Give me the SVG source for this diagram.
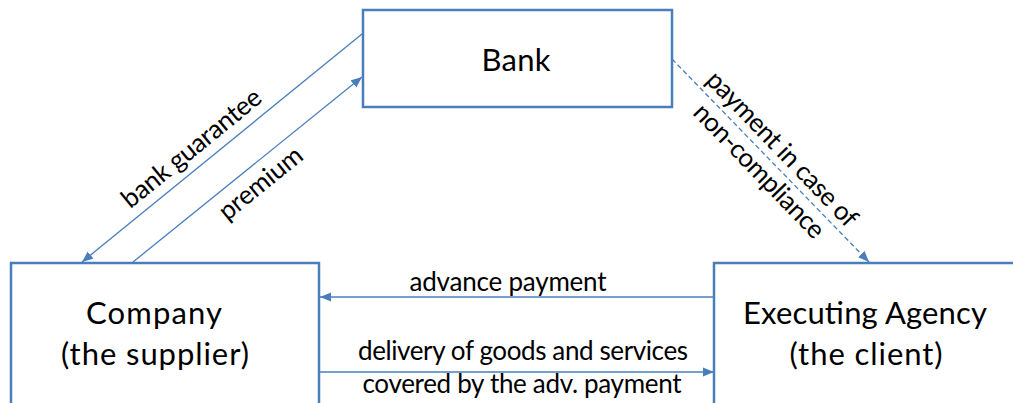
<svg xmlns="http://www.w3.org/2000/svg" width="1013" height="403" viewBox="0 0 1013 403">
<style>
.box{fill:#fff;stroke:#4A7EBB;stroke-width:2.5}
.big{font-family:Lato,"Liberation Sans",sans-serif;font-size:31px;fill:#000;text-anchor:middle}
.small{font-family:Lato,"Liberation Sans",sans-serif;font-size:26px;fill:#000;text-anchor:middle}
.conn{stroke:#4A7EBB;stroke-width:1.3;fill:none}
</style>
<defs>
<marker id="arr" markerUnits="userSpaceOnUse" markerWidth="12" markerHeight="10" refX="11" refY="5" orient="auto">
<path d="M0,0.5 L11,5 L0,9.5 z" fill="#4A7EBB"/>
</marker>
</defs>
<rect width="1013" height="403" fill="#fff"/>
<g id="bank">
<rect class="box" x="363" y="10" width="309" height="97"/>
<text class="big" x="516" y="71" textLength="69">Bank</text>
</g>
<g id="company">
<rect class="box" x="11" y="263" width="308" height="160"/>
<text class="big" x="154" y="324" textLength="136">Company</text>
<text class="big" x="155" y="365" textLength="188">(the supplier)</text>
</g>
<g id="agency">
<rect class="box" x="714" y="263" width="320" height="160"/>
<text class="big" x="865" y="324" textLength="244">Executing Agency</text>
<text class="big" x="866" y="365" textLength="153">(the client)</text>
</g>
<g id="connectors">
<line class="conn" x1="362" y1="34" x2="82" y2="262" marker-end="url(#arr)"/>
<line class="conn" x1="133" y1="262" x2="362" y2="77" marker-end="url(#arr)"/>
<line class="conn" x1="672" y1="59" x2="869" y2="262" stroke-dasharray="5,3" marker-end="url(#arr)"/>
<line class="conn" x1="714" y1="297" x2="320" y2="297" marker-end="url(#arr)"/>
<line class="conn" x1="320" y1="372" x2="714" y2="372" marker-end="url(#arr)"/>
<text class="small" x="197" y="155" textLength="172" transform="rotate(-39.2 197 155)">bank guarantee</text>
<text class="small" x="266" y="190" textLength="100" transform="rotate(-39 266 190)">premium</text>
<text class="small" x="776" y="155" textLength="205" transform="rotate(46 776 155)">payment in case of</text>
<text class="small" x="753" y="177" textLength="176" transform="rotate(46 753 177)">non-compliance</text>
<text class="small" x="508" y="291" textLength="197">advance payment</text>
<text class="small" x="523" y="360" textLength="330">delivery of goods and services</text>
<text class="small" x="522" y="393" textLength="319">covered by the adv. payment</text>
</g>
</svg>
